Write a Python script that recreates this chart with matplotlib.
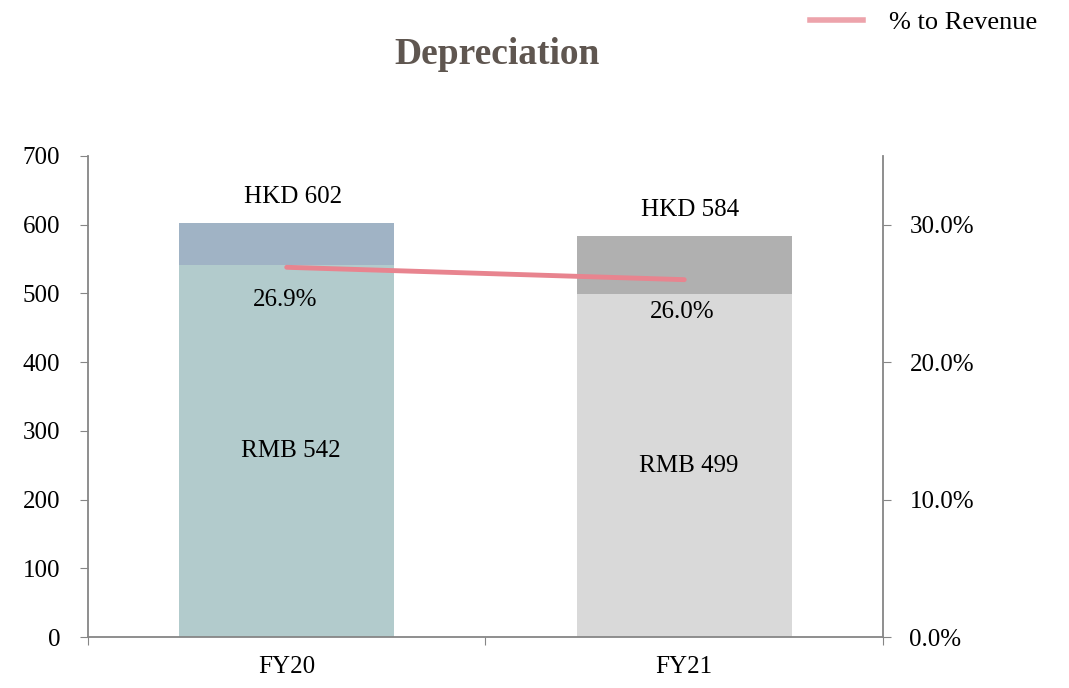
import matplotlib
matplotlib.use("Agg")
from matplotlib import pyplot as plt
from matplotlib.lines import Line2D

plt.rcParams['font.family'] = ['Liberation Serif', 'DejaVu Serif']

# data
years = ["FY20", "FY21"]
rmb = [542, 499]
hkd_total = [602, 584]
pct_revenue = [26.9, 26.0]

rmb_colors = ["#b2cbcc", "#d9d9d9"]
hkd_colors = ["#a0b3c5", "#b0b0b0"]
line_color = "#e8848f"
axis_color = "#868686"
fs = 18

fig = plt.figure(figsize=(10.69, 6.88), dpi=100)
ax = fig.add_axes([0.0823, 0.0741, 0.7437, 0.6992])

x = list(range(len(years)))
hkd_part = [t - r for t, r in zip(hkd_total, rmb)]
ax.bar(x, rmb, width=0.54, color=rmb_colors, zorder=2)
ax.bar(x, hkd_part, width=0.54, bottom=rmb, color=hkd_colors, zorder=2)

ax.set_xlim(-0.5, 1.5)
ax.set_ylim(0, 700)
ax.set_yticks(range(0, 701, 100))
ax.set_xticks([-0.5, 0.5, 1.5])
ax.set_xticklabels([])
ax.set_xticks(x, minor=True)
ax.set_xticklabels(years, minor=True)
ax.tick_params(axis='x', which='minor', length=0, pad=14, labelsize=fs)
ax.tick_params(axis='x', which='major', length=6, color=axis_color, direction='out')
ax.tick_params(axis='y', length=6, color=axis_color, labelsize=fs, pad=14)

for s in ['top', 'right']:
    ax.spines[s].set_visible(False)
for s in ['left', 'bottom']:
    ax.spines[s].set_color(axis_color)
    ax.spines[s].set_linewidth(1.3)

ax2 = ax.twinx()
ax2.set_ylim(0, 35)
ax2.set_yticks([0, 10, 20, 30])
ax2.set_yticklabels([f"{v:.1f}%" for v in [0, 10, 20, 30]])
ax2.tick_params(axis='y', length=6, color=axis_color, labelsize=fs, pad=13)
for s in ['top', 'left', 'bottom']:
    ax2.spines[s].set_visible(False)
ax2.spines['right'].set_color(axis_color)
ax2.spines['right'].set_linewidth(1.3)
ax2.plot(x, pct_revenue, color=line_color, linewidth=3.5, solid_capstyle='round', zorder=3)

# labels
for i in x:
    ax.text(i + 0.015, hkd_total[i] + 38, f"HKD {hkd_total[i]}", ha='center', va='center', fontsize=fs)
    ax.text(i + 0.01, rmb[i] / 2, f"RMB {rmb[i]}", ha='center', va='center', fontsize=fs)
    ax2.text(i - 0.005, pct_revenue[i] - 2.35, f"{pct_revenue[i]:.1f}%", ha='center', va='center', fontsize=fs)

fig.text(0.465, 0.921, "Depreciation", ha='center', va='center', fontsize=27,
         fontweight='bold', color="#5f5650")

handle = Line2D([0], [0], color="#eda3ab", linewidth=4)
fig.legend([handle], ["% to Revenue"], loc='center left', bbox_to_anchor=(0.758, 0.968),
           frameon=False, fontsize=19, handlelength=2.0, handletextpad=1.0,
           borderpad=0, borderaxespad=0)

fig.savefig("out.png", dpi=100)
